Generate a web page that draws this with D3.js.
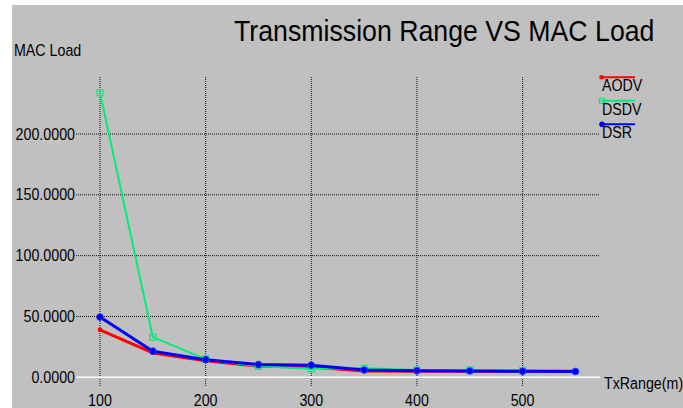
<!DOCTYPE html>
<html><head><meta charset="utf-8">
<script src="https://cdn.jsdelivr.net/npm/d3@7"></script>
<style>html,body{margin:0;padding:0;background:#fff;overflow:hidden}text{font-family:"Liberation Sans",Arial,sans-serif;fill:#000}</style>
</head><body>
<svg id="c" width="683" height="408"></svg>
<script>
const xValues = [100,150,200,250,300,350,400,450,500,550];
const aodv = [39, 20, 13.5, 9, 8.5, 5.2, 5, 5, 5, 5];
const dsdv = [234, 33, 15, 9, 7, 7.5, 6, 6, 5.5];
const dsr  = [49.5, 21.5, 14.5, 10.5, 10, 6, 5.3, 5.2, 5, 4.8];
const xTicks = [100,200,300,400,500];
const yTicks = [0,50,100,150,200];
const seriesNames = ["AODV","DSDV","DSR"];
const colors = ["#ff0000","#00ee78","#0000ff"];

const svg = d3.select("#c");
const SQ = 0.89;
function squeeze(sel){ sel.each(function(){ const w=this.getComputedTextLength(); d3.select(this).attr("textLength",w*SQ).attr("lengthAdjust","spacingAndGlyphs"); }); }

svg.append("rect").attr("x",12).attr("y",5).attr("width",671).attr("height",403).attr("fill","#c0c0c0");

const x = d3.scaleLinear().domain([100,500]).range([100,522.6]);
const y = d3.scaleLinear().domain([0,200]).range([377.3,134]);
const gLeft=76, gRight=600, gTop=77, gBottom=387;

// vertical grid
svg.append("g").selectAll("line").data(xTicks).join("line")
  .attr("x1",d=>x(d)).attr("x2",d=>x(d)).attr("y1",gTop).attr("y2",gBottom)
  .attr("stroke","#111").attr("stroke-dasharray","1,1");
// horizontal grid
svg.append("g").selectAll("line").data(yTicks.filter(d=>d>0)).join("line")
  .attr("x1",gLeft).attr("x2",gRight).attr("y1",d=>y(d)).attr("y2",d=>y(d))
  .attr("stroke","#111").attr("stroke-dasharray","1,1");
svg.append("line").attr("x1",gLeft).attr("x2",gRight).attr("y1",y(0)).attr("y2",y(0))
  .attr("stroke","#fff").attr("stroke-width",1.5);

// y labels
svg.append("g").selectAll("text").data(yTicks).join("text")
  .attr("x",75).attr("y",d=>y(d)+5.5).attr("text-anchor","end").attr("font-size",16)
  .text(d=>d3.format(".4f")(d)).call(squeeze);
// x labels
svg.append("g").selectAll("text").data(xTicks).join("text")
  .attr("x",d=>x(d)).attr("y",406).attr("text-anchor","middle").attr("font-size",16)
  .text(d=>d).call(squeeze);

svg.append("text").attr("x",604).attr("y",389).attr("font-size",16).text("TxRange(m)").call(squeeze);
svg.append("text").attr("x",14).attr("y",56).attr("font-size",16).text("MAC Load").call(squeeze);
svg.append("text").attr("x",234).attr("y",41).attr("font-size",30).text("Transmission Range VS MAC Load").call(squeeze);

const data = [aodv, dsdv, dsr];
const widths = [3, 2, 3];
const line = d3.line().x(d=>x(d[0])).y(d=>y(d[1]));
data.forEach((vals,i)=>{
  const pts = vals.map((v,j)=>[xValues[j],v]);
  svg.append("path").datum(pts).attr("d",line).attr("fill","none")
    .attr("stroke",colors[i]).attr("stroke-width",widths[i]).attr("stroke-linejoin","round");
  const g = svg.append("g");
  if(i===0){
    g.selectAll("rect").data(pts).join("rect").attr("x",d=>x(d[0])-2).attr("y",d=>y(d[1])-2)
      .attr("width",4).attr("height",4).attr("fill",colors[i]);
  } else if(i===1){
    g.selectAll("rect").data(pts).join("rect").attr("x",d=>x(d[0])-3).attr("y",d=>y(d[1])-3)
      .attr("width",6).attr("height",6).attr("fill","none").attr("stroke",colors[i]).attr("stroke-width",1.2);
  } else {
    g.selectAll("circle").data(pts).join("circle").attr("cx",d=>x(d[0])).attr("cy",d=>y(d[1]))
      .attr("r",3.3).attr("fill",colors[i]).attr("stroke","#2233ff").attr("stroke-width",1);
  }
});

// legend
const lg = svg.append("g");
seriesNames.forEach((n,i)=>{
  const ly = 77.3 + i*23.5;
  lg.append("line").attr("x1",601).attr("x2",635).attr("y1",ly).attr("y2",ly)
    .attr("stroke",colors[i]).attr("stroke-width",2);
  if(i===0) lg.append("rect").attr("x",599.5).attr("y",ly-2).attr("width",4).attr("height",4).attr("fill",colors[i]);
  if(i===1) lg.append("rect").attr("x",599.5).attr("y",ly-2.5).attr("width",5).attr("height",5).attr("fill","none").attr("stroke",colors[i]).attr("stroke-width",1.2);
  if(i===2) lg.append("circle").attr("cx",602).attr("cy",ly).attr("r",2.8).attr("fill",colors[i]);
  lg.append("text").attr("x",602).attr("y",ly+14).attr("font-size",16).text(n).call(squeeze);
});
</script>
</body></html>
